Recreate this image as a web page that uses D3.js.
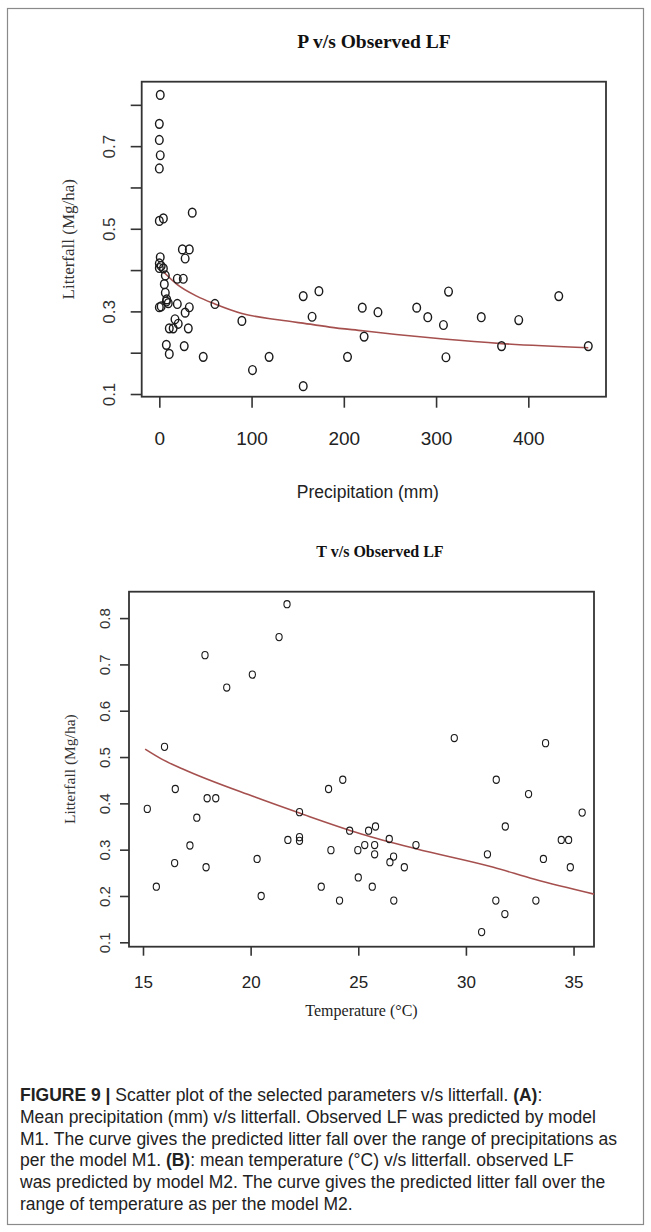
<!DOCTYPE html>
<html>
<head>
<meta charset="utf-8">
<script src="https://cdn.jsdelivr.net/npm/d3@7"></script>
<style>
  body { margin: 0; background: #fff; }
</style>
</head>
<body>
<div id="figure"></div>
<script>

// Panel A: precipitation (mm) vs observed litterfall (Mg/ha)
const precipMm = [1, 0, 0, 1, 0, 0, 4.4, 35.7, 25, 32.5, 28, 1, 0, 0, 2, 4.4, 6.5, 19.5, 26, 5.4,
  6.5, 8, 0, 2, 7.6, 9.7, 19.5, 32.5, 28, 60.3, 17, 10.8, 15, 20.5, 31.4, 89.5, 7.6, 10.8, 27, 47.6,
  101, 119, 156, 173, 165.6, 156, 204, 220, 237, 222, 279, 291, 313.5, 308, 310.7, 349, 371, 389.6, 433, 465];
const precipLF = [0.824, 0.754, 0.715, 0.678, 0.646, 0.519, 0.525, 0.539, 0.450, 0.450, 0.428, 0.431, 0.416, 0.405, 0.41, 0.404, 0.387, 0.379, 0.379, 0.366,
  0.345, 0.329, 0.310, 0.312, 0.324, 0.32, 0.318, 0.310, 0.297, 0.318, 0.281, 0.259, 0.259, 0.27, 0.259, 0.277, 0.219, 0.197, 0.216, 0.19,
  0.158, 0.19, 0.337, 0.349, 0.287, 0.119, 0.19, 0.309, 0.298, 0.239, 0.309, 0.286, 0.348, 0.267, 0.189, 0.286, 0.216, 0.279, 0.337, 0.216];

// predicted curve of model M1
const precipCurveX = [4.4, 18.8, 40.5, 60.3, 89.5, 130.6, 166.7, 184.7, 220.8, 256.9, 308, 371, 465];
const precipCurveY = [0.396, 0.366, 0.337, 0.318, 0.295, 0.279, 0.268, 0.262, 0.253, 0.244, 0.233, 0.222, 0.212];

const precipTicks = [0, 100, 200, 300, 400];
const precipLFTicks = [0.1, 0.2, 0.3, 0.4, 0.5, 0.6, 0.7, 0.8];
const precipLFLabels = ['0.1', '', '0.3', '', '0.5', '', '0.7', ''];

// Panel B: temperature (°C) vs observed litterfall (Mg/ha)
const tempC = [21.69, 21.32, 17.88, 20.08, 18.89, 16.0, 29.46, 33.7, 15.2, 16.5, 16.47, 17.18, 17.5, 17.98, 18.38, 17.93,
  20.3, 21.73, 22.27, 22.27, 22.27, 23.62, 24.28, 23.73, 24.6, 24.98, 25.3, 25.48, 25.8, 25.76, 25.76, 26.44, 26.47, 26.64,
  27.14, 27.68, 31.0, 31.41, 31.83, 32.91, 33.6, 34.43, 34.77, 34.85, 35.4, 15.62, 20.49, 23.28, 24.13, 25.0, 25.65, 26.65,
  30.73, 31.39, 31.81, 33.25];
const tempLF = [0.830, 0.759, 0.72, 0.678, 0.650, 0.522, 0.541, 0.530, 0.388, 0.431, 0.271, 0.309, 0.369, 0.411, 0.411, 0.262,
  0.28, 0.321, 0.327, 0.319, 0.381, 0.431, 0.451, 0.299, 0.341, 0.299, 0.310, 0.341, 0.350, 0.310, 0.29, 0.323, 0.273, 0.285,
  0.262, 0.310, 0.29, 0.451, 0.350, 0.420, 0.28, 0.321, 0.321, 0.262, 0.38, 0.22, 0.20, 0.22, 0.19, 0.24, 0.22, 0.19,
  0.122, 0.19, 0.161, 0.19];

// predicted curve of model M2
const tempCurveX = [15.1, 15.85, 16.85, 20.17, 22.27, 25.14, 27.68, 31.28, 33.19, 35.95];
const tempCurveY = [0.517, 0.496, 0.474, 0.414, 0.379, 0.334, 0.302, 0.262, 0.236, 0.204];

const tempTicks = [15, 20, 25, 30, 35];
const tempLFTicks = [0.1, 0.2, 0.3, 0.4, 0.5, 0.6, 0.7, 0.8];
const tempLFLabels = ['0.1', '0.2', '0.3', '0.4', '0.5', '0.6', '0.7', '0.8'];

const captionLines = [
  [['FIGURE 9 |', true], [' Scatter plot of the selected parameters v/s litterfall. ', false], ['(A)', true], [':', false]],
  [['Mean precipitation (mm) v/s litterfall. Observed LF was predicted by model', false]],
  [['M1. The curve gives the predicted litter fall over the range of precipitations as', false]],
  [['per the model M1. ', false], ['(B)', true], [': mean temperature (°C) v/s litterfall. observed LF', false]],
  [['was predicted by model M2. The curve gives the predicted litter fall over the', false]],
  [['range of temperature as per the model M2.', false]]
];

const W = 651, H = 1232;
const svg = d3.select('#figure')
  .append('svg')
  .attr('width', W)
  .attr('height', H)
  .style('display', 'block')
  .style('background', '#fff');

// frame round figure + caption
svg.append('rect')
  .attr('x', 7.5).attr('y', 8.5)
  .attr('width', 636).attr('height', 1216)
  .attr('fill', 'none')
  .attr('stroke', '#8a8a8a')
  .attr('stroke-width', 1.2);

const serif = '"Liberation Serif", "Times New Roman", serif';
const sans = '"Liberation Sans", Arial, sans-serif';

function drawPanel(p) {
  const x = d3.scaleLinear().domain(p.xDomain).range([p.left, p.right]);
  const y = d3.scaleLinear().domain(p.yDomain).range([p.bottom, p.top]);
  const g = svg.append('g');

  // title
  g.append('text')
    .attr('x', p.titleX).attr('y', p.titleY)
    .attr('text-anchor', 'middle')
    .attr('font-family', serif)
    .attr('font-weight', 'bold')
    .attr('font-size', p.titleSize)
    .attr('fill', '#111')
    .text(p.title);

  // x axis (ticks below the box)
  const xAxis = g.append('g')
    .attr('transform', `translate(0,${p.bottom})`)
    .call(d3.axisBottom(x).tickValues(p.xTicks).tickSize(p.tickLen).tickPadding(p.xLabelPad).tickFormat(d3.format('d')));
  xAxis.select('.domain').remove();
  xAxis.selectAll('line').attr('stroke', '#333').attr('stroke-width', 1.6);
  xAxis.selectAll('text')
    .attr('font-family', sans)
    .attr('font-size', p.xLabelSize)
    .attr('fill', '#222');

  // y axis, labels rotated like R's default
  const yAxis = g.append('g')
    .attr('transform', `translate(${p.left},0)`)
    .call(d3.axisLeft(y).tickValues(p.yTicks).tickSize(p.tickLen).tickFormat((d, i) => p.yLabels[i]));
  yAxis.select('.domain').remove();
  yAxis.selectAll('line').attr('stroke', '#333').attr('stroke-width', 1.6);
  yAxis.selectAll('text')
    .attr('x', null).attr('dy', null)
    .attr('text-anchor', 'middle')
    .attr('dominant-baseline', 'central')
    .attr('transform', `translate(${p.yLabelX - p.left},0) rotate(-90)`)
    .attr('font-family', sans)
    .attr('font-size', p.yLabelSize)
    .attr('fill', '#333');

  // plot box
  g.append('rect')
    .attr('x', p.left).attr('y', p.top)
    .attr('width', p.right - p.left).attr('height', p.bottom - p.top)
    .attr('fill', 'none')
    .attr('stroke', '#333')
    .attr('stroke-width', 1.8);

  // axis titles
  g.append('text')
    .attr('x', (p.left + p.right) / 2 + p.xTitleShift).attr('y', p.xTitleY)
    .attr('text-anchor', 'middle')
    .attr('font-family', p.xTitleFont)
    .attr('font-size', p.xTitleSize)
    .attr('fill', '#222')
    .text(p.xTitle);

  g.append('text')
    .attr('transform', `translate(${p.yTitleX},${(p.top + p.bottom) / 2}) rotate(-90)`)
    .attr('text-anchor', 'middle')
    .attr('dominant-baseline', 'central')
    .attr('font-family', serif)
    .attr('font-size', p.yTitleSize)
    .attr('fill', '#333')
    .text(p.yTitle);

  // model curve
  const curve = p.curveX.map((v, i) => [v, p.curveY[i]]);
  g.append('path')
    .datum(curve)
    .attr('d', d3.line().curve(d3.curveMonotoneX).x(d => x(d[0])).y(d => y(d[1])))
    .attr('fill', 'none')
    .attr('stroke', '#a5504e')
    .attr('stroke-width', 1.6);

  // observed points as open circles
  const pts = p.xs.map((v, i) => [v, p.ys[i]]);
  g.selectAll('ellipse')
    .data(pts)
    .enter().append('ellipse')
    .attr('cx', d => x(d[0]))
    .attr('cy', d => y(d[1]))
    .attr('rx', p.rx)
    .attr('ry', p.ry)
    .attr('fill', 'none')
    .attr('stroke', '#1a1a1a')
    .attr('stroke-width', p.pointStroke);
}

drawPanel({
  title: 'P v/s Observed LF', titleX: 374, titleY: 48, titleSize: 19.5,
  xTitle: 'Precipitation (mm)', xTitleFont: sans, xTitleSize: 17.5, xTitleY: 498, xTitleShift: -6,
  yTitle: 'Litterfall (Mg/ha)', yTitleX: 68, yTitleSize: 17,
  left: 141.7, right: 606, top: 81.7, bottom: 396.7,
  xDomain: [-19.1, 484.2], yDomain: [0.0935, 0.856],
  xTicks: precipTicks, yTicks: precipLFTicks, yLabels: precipLFLabels,
  tickLen: 11, xLabelPad: 24, xLabelSize: 19, yLabelX: 109, yLabelSize: 17,
  xs: precipMm, ys: precipLF, curveX: precipCurveX, curveY: precipCurveY,
  rx: 3.8, ry: 4.4, pointStroke: 1.4
});

drawPanel({
  title: 'T v/s Observed LF', titleX: 380, titleY: 557, titleSize: 16,
  xTitle: 'Temperature (°C)', xTitleFont: serif, xTitleSize: 16, xTitleY: 1016, xTitleShift: 0,
  yTitle: 'Litterfall (Mg/ha)', yTitleX: 69, yTitleSize: 15.5,
  left: 129, right: 594, top: 591.7, bottom: 946.7,
  xDomain: [14.35, 35.95], yDomain: [0.0905, 0.857],
  xTicks: tempTicks, yTicks: tempLFTicks, yLabels: tempLFLabels,
  tickLen: 9, xLabelPad: 20, xLabelSize: 17, yLabelX: 104, yLabelSize: 15,
  xs: tempC, ys: tempLF, curveX: tempCurveX, curveY: tempCurveY,
  rx: 3.1, ry: 3.6, pointStroke: 1.1
});

// caption under the two panels
const caption = svg.append('text')
  .attr('font-family', sans)
  .attr('font-size', 17.5)
  .attr('fill', '#222');

captionLines.forEach((line, i) => {
  line.forEach(([txt, bold], j) => {
    const t = caption.append('tspan')
      .attr('font-weight', bold ? 'bold' : null)
      .text(txt);
    // first piece of each row starts a new line
    if (j === 0) t.attr('x', 20).attr('y', 1101 + i * 21.8);
  });
});
</script>
</body>
</html>
